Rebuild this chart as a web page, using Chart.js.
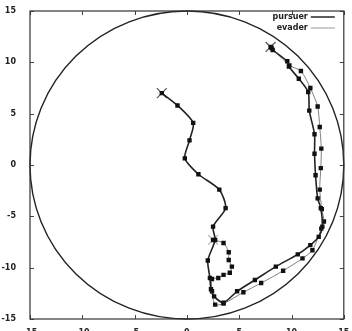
<!DOCTYPE html>
<html>
<head>
<meta charset="utf-8">
<script src="https://cdn.jsdelivr.net/npm/chart.js@4.4.1/dist/chart.umd.min.js"></script>
<style>
  html, body { margin: 0; padding: 0; background: #fff; }
  #wrap { width: 352px; height: 331px; }
</style>
</head>
<body>
<div id="wrap"><canvas id="chase"></canvas></div>
<script>
// trayectorias
const pursuerX = [-2.4, -0.9, 0.6, 0.25, -0.2, 1.1, 3.1, 3.7, 2.5, 2.7, 2.0, 2.2, 2.3, 2.6, 3.5, 4.8, 6.5, 8.5, 10.6, 11.8, 12.6, 12.95, 12.8, 12.5, 12.3, 12.2, 12.2, 11.7, 11.6, 10.7, 9.75, 9.6, 8.2, 8.0];
const pursuerY = [7.0, 5.8, 4.1, 2.4, 0.65, -0.9, -2.4, -4.2, -6.0, -7.3, -9.3, -11.0, -12.1, -12.8, -13.4, -12.3, -11.2, -9.9, -8.7, -7.8, -7.0, -6.0, -4.2, -3.25, -1.0, 1.1, 3.0, 5.3, 7.1, 8.4, 9.6, 10.1, 11.2, 11.5];

const evaderX = [2.5, 3.5, 4.0, 4.0, 4.3, 4.1, 3.5, 3.0, 2.4, 2.4, 2.7, 3.5, 5.4, 7.1, 9.2, 11.05, 12.0, 12.85, 13.1, 12.9, 12.7, 12.8, 12.85, 12.7, 12.5, 11.8, 10.9, 9.8, 8.1];
const evaderY = [-7.3, -7.6, -8.5, -9.25, -9.9, -10.5, -10.7, -11.0, -11.1, -12.3, -13.6, -13.5, -12.4, -11.5, -10.3, -9.1, -8.3, -6.2, -5.5, -4.3, -2.4, -0.3, 1.6, 3.7, 5.7, 7.5, 9.15, 9.7, 11.4];

const tickValues = [-15, -10, -5, 0, 5, 10, 15];
const arenaRadius = 15;
const seriesNames = ['pursuer', 'evader'];

const toPoints = (xs, ys) => xs.map((v, i) => ({ x: v, y: ys[i] }));
const pursuer = toPoints(pursuerX, pursuerY);
const evader = toPoints(evaderX, evaderY);
// cruces: salida del perseguidor, captura, salida del evasor
const crossPts = [pursuer[0], pursuer[pursuer.length - 1], evader[0]];

const labelFont = 'bold 8px "DejaVu Sans"';

// circulo, marco, marcas hacia dentro y leyenda
const arenaPlugin = {
    id: 'arena',
    beforeDatasetsDraw(chart) {
        const { ctx, chartArea: a, scales: { x, y } } = chart;
        const cx = x.getPixelForValue(0);
        const cy = y.getPixelForValue(0);
        const rx = x.getPixelForValue(arenaRadius) - cx;
        const ry = cy - y.getPixelForValue(arenaRadius);
        ctx.save();
        ctx.beginPath();
        ctx.ellipse(cx, cy, rx, ry, 0, 0, Math.PI * 2);
        ctx.strokeStyle = '#222';
        ctx.lineWidth = 1.4;
        ctx.stroke();

        ctx.strokeStyle = '#444';
        ctx.lineWidth = 1;
        tickValues.forEach(v => {
            const px = Math.round(x.getPixelForValue(v)) + 0.5;
            const py = Math.round(y.getPixelForValue(v)) + 0.5;
            ctx.beginPath();
            ctx.moveTo(px, a.bottom); ctx.lineTo(px, a.bottom - 4);
            ctx.moveTo(px, a.top); ctx.lineTo(px, a.top + 4);
            ctx.moveTo(a.left, py); ctx.lineTo(a.left + 4, py);
            ctx.moveTo(a.right, py); ctx.lineTo(a.right - 4, py);
            ctx.stroke();
        });
        ctx.strokeStyle = '#333';
        ctx.lineWidth = 1.2;
        ctx.strokeRect(a.left, a.top, a.width, a.height);
        ctx.restore();
    },
    afterDatasetsDraw(chart) {
        const { ctx, chartArea: a } = chart;
        const colors = ['#333', '#999'];
        const widths = [1.6, 1];
        ctx.save();
        ctx.font = labelFont;
        ctx.textAlign = 'right';
        ctx.textBaseline = 'middle';
        seriesNames.forEach((name, i) => {
            const yy = a.top + 6 + i * 11;
            ctx.fillStyle = '#222';
            ctx.fillText(name, a.right - 36, yy);
            ctx.beginPath();
            ctx.moveTo(a.right - 33, yy);
            ctx.lineTo(a.right - 9, yy);
            ctx.strokeStyle = colors[i];
            ctx.lineWidth = widths[i];
            ctx.stroke();
        });
        ctx.restore();
    }
};

new Chart(document.getElementById('chase'), {
    type: 'scatter',
    data: {
        datasets: [
            {
                label: seriesNames[0],
                data: pursuer,
                showLine: true,
                borderColor: '#222',
                borderWidth: 1.6,
                tension: 0.25,
                pointStyle: 'rect',
                pointRadius: 3.1,
                pointBackgroundColor: '#111',
                pointBorderColor: '#111',
                pointBorderWidth: 0
            },
            {
                label: seriesNames[1],
                data: evader,
                showLine: true,
                borderColor: '#808080',
                borderWidth: 1,
                tension: 0.25,
                pointStyle: 'rect',
                pointRadius: 3.1,
                pointBackgroundColor: '#111',
                pointBorderColor: '#111',
                pointBorderWidth: 0
            },
            {
                label: 'marks',
                data: crossPts,
                showLine: false,
                pointStyle: 'crossRot',
                pointRadius: 7,
                pointBorderColor: ['#555', '#555', '#bbb'],
                pointBorderWidth: 1.2
            }
        ]
    },
    options: {
        responsive: true,
        maintainAspectRatio: false,
        animation: false,
        events: [],
        layout: { padding: { top: 11, right: 6, left: 0, bottom: 0 } },
        plugins: {
            legend: { display: false },
            tooltip: { enabled: false }
        },
        scales: {
            x: {
                type: 'linear',
                min: -15,
                max: 15,
                afterBuildTicks: s => { s.ticks = tickValues.map(v => ({ value: v })); },
                afterFit: s => { s.height = 12; },
                grid: { display: false },
                border: { display: false },
                ticks: { padding: 1, color: '#222', font: { family: 'DejaVu Sans', size: 8, weight: 'bold' }, maxRotation: 0 }
            },
            y: {
                type: 'linear',
                min: -15,
                max: 15,
                afterBuildTicks: s => { s.ticks = tickValues.map(v => ({ value: v })); },
                afterFit: s => { s.width = 30; },
                grid: { display: false },
                border: { display: false },
                ticks: { padding: 6, color: '#222', font: { family: 'DejaVu Sans', size: 8, weight: 'bold' } }
            }
        }
    },
    plugins: [arenaPlugin]
});
</script>
</body>
</html>
